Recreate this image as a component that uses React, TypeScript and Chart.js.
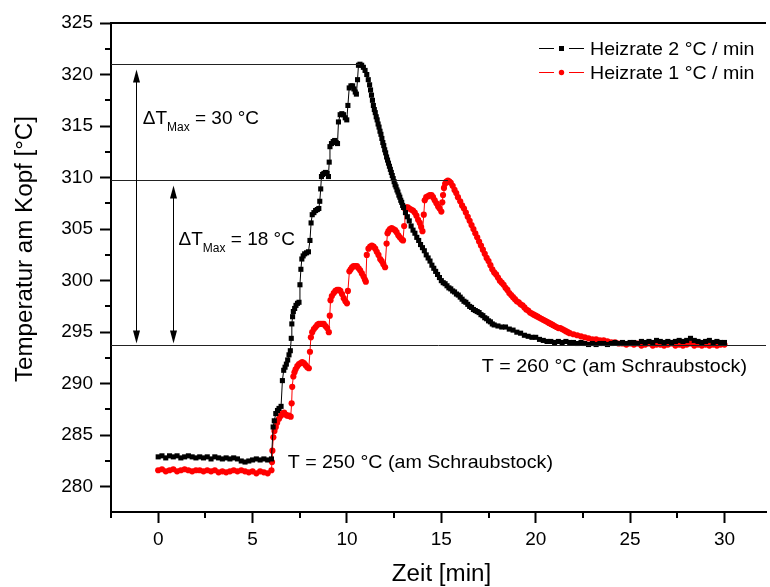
import { useEffect, useRef } from 'react';
import { Chart, registerables } from 'chart.js';

Chart.register(...registerables);

const FONT = '"Liberation Sans", Arial, Helvetica, sans-serif';

// Axis ranges and ticks
const X_MIN = -2.5;
const X_MAX = 32.2;
const Y_MIN = 277.55;
const Y_MAX = 325;
const xMinorTicks = [-2.5, 2.5, 7.5, 12.5, 17.5, 22.5, 27.5];
const yMinorTicks = [282.5, 287.5, 292.5, 297.5, 302.5, 307.5, 312.5, 317.5, 322.5];

const xTitle = 'Zeit [min]';
const yTitle = 'Temperatur am Kopf [°C]';
const seriesLabels = ['Heizrate 2 °C / min', 'Heizrate 1 °C / min'];

// Heizrate 2 °C / min  [time (min), temperature (°C)]
const heizrate2: [number, number][] = [
  [0, 282.9], [0.2, 283.0], [0.4, 282.8], [0.6, 283.0], [0.8, 282.9], [1.0, 283.0], [1.2, 282.8], [1.4, 282.9],
  [1.6, 283.0], [1.8, 282.9], [2.0, 282.8], [2.2, 282.9], [2.4, 282.8], [2.6, 282.9], [2.8, 282.7], [3.0, 282.9],
  [3.2, 282.8], [3.4, 282.7], [3.6, 282.8], [3.8, 282.7], [4.0, 282.8], [4.2, 282.7], [4.4, 282.5], [4.6, 282.4],
  [4.8, 282.5], [5.0, 282.6], [5.2, 282.7], [5.4, 282.6], [5.6, 282.7], [5.8, 282.6], [6.0, 282.7],
  [6.09, 285.8], [6.15, 286.4], [6.23, 287.1], [6.32, 287.4], [6.4, 287.6], [6.51, 287.8], [6.58, 290.3],
  [6.65, 291.3], [6.72, 291.6], [6.79, 291.9], [6.86, 292.3], [6.93, 292.8], [7.0, 293.2], [7.05, 294.4],
  [7.08, 295.8], [7.12, 296.5], [7.16, 297.0], [7.23, 297.3], [7.3, 297.6], [7.38, 297.8], [7.46, 297.9],
  [7.51, 299.6], [7.56, 301.1], [7.61, 302.1], [7.68, 302.4], [7.76, 302.6], [7.86, 302.7], [7.96, 302.8],
  [8.04, 303.9], [8.1, 305.6], [8.16, 306.4], [8.25, 306.6], [8.34, 306.8], [8.43, 306.9], [8.51, 307.0],
  [8.56, 307.7], [8.61, 308.9], [8.65, 310.1], [8.71, 310.3], [8.78, 310.4], [8.86, 310.5], [8.95, 310.4],
  [9.02, 310.1], [9.06, 311.5], [9.1, 313.0], [9.18, 313.3], [9.27, 313.5], [9.35, 313.6], [9.43, 313.4],
  [9.5, 313.3], [9.55, 315.4], [9.64, 316.1], [9.73, 316.2], [9.82, 316.1], [9.91, 315.8], [9.99, 315.6],
  [10.05, 317.0], [10.12, 318.7], [10.21, 318.9], [10.3, 318.9], [10.37, 318.6], [10.44, 318.3], [10.5, 318.1],
  [10.56, 319.5], [10.61, 320.9], [10.69, 321.0], [10.78, 320.9], [10.87, 320.7], [10.96, 320.4], [11.05, 320.0],
  [11.13, 319.5], [11.2, 319.0], [11.25, 318.5], [11.3, 318.0], [11.35, 317.5], [11.4, 317.0], [11.45, 316.6],
  [11.5, 316.3], [11.55, 315.9], [11.6, 315.6], [11.65, 315.2], [11.7, 314.9], [11.75, 314.5], [11.8, 314.2],
  [11.85, 313.8], [11.9, 313.4], [11.95, 313.1], [12.0, 312.7], [12.05, 312.4], [12.1, 312.0], [12.15, 311.7],
  [12.2, 311.4], [12.25, 311.1], [12.3, 310.8], [12.35, 310.5], [12.4, 310.2], [12.45, 309.9], [12.5, 309.6],
  [12.55, 309.3], [12.6, 309.1], [12.65, 308.8], [12.7, 308.6], [12.75, 308.3], [12.8, 308.1], [12.85, 307.8],
  [12.9, 307.6], [12.95, 307.3], [13.0, 307.1], [13.1, 306.6], [13.2, 306.2], [13.3, 305.8], [13.4, 305.3],
  [13.5, 304.9], [13.6, 304.6], [13.7, 304.2], [13.8, 303.9], [13.9, 303.5], [14.0, 303.2], [14.1, 302.9],
  [14.2, 302.5], [14.3, 302.2], [14.4, 301.9], [14.5, 301.5], [14.6, 301.2], [14.7, 300.9], [14.8, 300.6],
  [14.9, 300.3], [15.0, 300.0], [15.1, 299.8], [15.2, 299.7], [15.3, 299.5], [15.4, 299.3], [15.5, 299.2],
  [15.6, 299.0], [15.7, 298.9], [15.8, 298.7], [15.9, 298.6], [16.0, 298.4], [16.1, 298.2], [16.2, 298.0],
  [16.3, 297.9], [16.4, 297.7], [16.5, 297.5], [16.6, 297.4], [16.7, 297.2], [16.8, 297.1], [16.9, 297.0],
  [17.0, 296.9], [17.1, 296.7], [17.2, 296.6], [17.3, 296.4], [17.4, 296.3], [17.5, 296.1], [17.6, 296.0],
  [17.7, 295.8], [17.8, 295.7], [18.0, 295.6], [18.2, 295.5], [18.4, 295.5], [18.6, 295.3], [18.8, 295.2],
  [19.0, 295.0], [19.2, 294.9], [19.4, 294.7], [19.6, 294.6], [19.8, 294.5], [20.0, 294.5], [20.2, 294.3],
  [20.4, 294.2], [20.6, 294.1], [20.8, 294.1], [21.0, 294.0], [21.2, 294.1], [21.4, 294.0], [21.6, 294.1],
  [21.8, 294.0], [22.0, 294.0], [22.2, 293.9], [22.4, 294.0], [22.6, 293.9], [22.8, 293.8], [23.0, 293.9],
  [23.2, 293.8], [23.4, 293.9], [23.6, 293.9], [23.8, 293.8], [24.0, 293.9], [24.2, 294.0], [24.4, 293.9],
  [24.6, 294.0], [24.8, 293.9], [25.0, 294.0], [25.2, 294.0], [25.4, 293.9], [25.6, 294.1], [25.8, 294.0],
  [26.0, 294.1], [26.2, 294.0], [26.4, 294.2], [26.6, 294.1], [26.8, 294.0], [27.0, 294.1], [27.2, 294.0],
  [27.4, 294.1], [27.6, 294.2], [27.8, 294.1], [28.0, 294.2], [28.2, 294.4], [28.4, 294.2], [28.6, 294.1],
  [28.8, 294.0], [29.0, 294.1], [29.2, 294.2], [29.4, 294.0], [29.6, 294.1], [29.8, 294.0], [30.0, 294.0],
];

// Heizrate 1 °C / min  [time (min), temperature (°C)]
const heizrate1: [number, number][] = [
  [0, 281.6], [0.2, 281.7], [0.4, 281.5], [0.6, 281.6], [0.8, 281.7], [1.0, 281.5], [1.2, 281.6], [1.4, 281.7],
  [1.6, 281.6], [1.8, 281.5], [2.0, 281.6], [2.2, 281.6], [2.4, 281.5], [2.6, 281.6], [2.8, 281.5], [3.0, 281.6],
  [3.2, 281.4], [3.4, 281.5], [3.6, 281.4], [3.8, 281.5], [4.0, 281.6], [4.2, 281.5], [4.4, 281.6], [4.6, 281.5],
  [4.8, 281.4], [5.0, 281.5], [5.2, 281.3], [5.4, 281.5], [5.6, 281.4], [5.8, 281.3], [6.0, 281.6],
  [6.03, 282.4], [6.05, 283.5], [6.1, 284.8], [6.16, 285.4], [6.23, 285.8], [6.3, 286.2], [6.4, 286.6],
  [6.5, 286.9], [6.58, 287.1], [6.67, 287.2], [6.75, 287.0], [6.84, 286.9], [6.93, 286.9], [7.02, 286.8],
  [7.07, 288.1], [7.1, 289.7], [7.16, 290.7], [7.22, 291.1], [7.28, 291.4], [7.37, 291.7], [7.46, 291.9],
  [7.55, 292.0], [7.63, 292.1], [7.72, 292.0], [7.81, 291.8], [7.9, 291.6], [7.98, 291.5], [8.04, 293.1],
  [8.09, 294.5], [8.16, 295.0], [8.25, 295.3], [8.34, 295.5], [8.43, 295.7], [8.51, 295.8], [8.6, 295.8],
  [8.68, 295.8], [8.77, 295.8], [8.86, 295.6], [8.95, 295.4], [9.04, 295.0], [9.09, 296.6], [9.13, 298.1],
  [9.2, 298.5], [9.3, 298.8], [9.39, 299.0], [9.48, 299.1], [9.57, 299.1], [9.65, 299.0], [9.74, 298.7],
  [9.83, 298.3], [9.92, 298.0], [10.0, 297.8], [10.05, 299.0], [10.13, 300.9], [10.2, 301.1], [10.27, 301.3],
  [10.35, 301.4], [10.44, 301.4], [10.53, 301.4], [10.62, 301.2], [10.7, 301.0], [10.79, 300.7], [10.88, 300.4],
  [10.95, 300.1], [11.0, 299.9], [11.05, 302.5], [11.14, 303.1], [11.23, 303.3], [11.32, 303.4], [11.41, 303.3],
  [11.5, 303.1], [11.58, 302.8], [11.67, 302.5], [11.76, 302.1], [11.84, 301.9], [11.93, 301.6], [12.02, 301.3],
  [12.1, 303.6], [12.15, 304.6], [12.2, 304.8], [12.28, 305.0], [12.37, 305.1], [12.46, 305.0], [12.55, 304.9],
  [12.63, 304.7], [12.72, 304.4], [12.8, 304.2], [12.9, 304.0], [12.97, 303.9], [13.03, 305.3], [13.07, 307.0],
  [13.14, 307.1], [13.22, 307.1], [13.3, 307.0], [13.4, 306.9], [13.5, 306.8], [13.59, 306.6], [13.68, 306.3],
  [13.77, 305.9], [13.86, 305.6], [13.93, 305.2], [14.0, 304.8], [14.07, 306.4], [14.12, 307.8], [14.2, 308.1],
  [14.3, 308.2], [14.39, 308.3], [14.48, 308.3], [14.56, 308.1], [14.65, 307.8], [14.74, 307.5], [14.83, 307.2],
  [14.91, 307.0], [15.0, 306.7], [15.05, 307.6], [15.09, 308.3], [15.14, 309.0], [15.2, 309.4], [15.27, 309.6],
  [15.35, 309.7], [15.43, 309.6], [15.5, 309.5], [15.6, 309.2], [15.7, 308.8], [15.79, 308.5], [15.88, 308.1],
  [16.0, 307.7], [16.1, 307.3], [16.2, 307.0], [16.3, 306.6], [16.4, 306.2], [16.5, 305.8], [16.6, 305.4],
  [16.7, 305.0], [16.8, 304.6], [16.9, 304.2], [17.0, 303.8], [17.1, 303.4], [17.2, 303.0], [17.3, 302.6],
  [17.4, 302.2], [17.5, 301.9], [17.6, 301.5], [17.7, 301.1], [17.8, 300.8], [17.9, 300.6], [18.0, 300.3],
  [18.1, 300.0], [18.2, 299.8], [18.3, 299.6], [18.4, 299.3], [18.5, 299.1], [18.6, 298.8], [18.7, 298.6],
  [18.8, 298.4], [18.9, 298.2], [19.0, 298.0], [19.1, 297.9], [19.2, 297.7], [19.3, 297.6], [19.4, 297.4],
  [19.5, 297.2], [19.6, 297.1], [19.7, 296.9], [19.8, 296.8], [19.9, 296.7], [20.0, 296.6], [20.1, 296.5],
  [20.2, 296.4], [20.3, 296.3], [20.4, 296.2], [20.5, 296.1], [20.6, 296.0], [20.7, 295.9], [20.8, 295.8],
  [20.9, 295.7], [21.0, 295.6], [21.1, 295.5], [21.2, 295.4], [21.3, 295.4], [21.4, 295.3], [21.5, 295.2],
  [21.6, 295.1], [21.7, 295.0], [21.8, 294.9], [22.0, 294.8], [22.2, 294.7], [22.4, 294.6], [22.6, 294.5],
  [22.8, 294.4], [23.0, 294.3], [23.2, 294.3], [23.4, 294.2], [23.6, 294.2], [23.8, 294.1], [24.0, 294.0],
  [24.2, 294.0], [24.4, 293.9], [24.6, 293.9], [24.8, 293.8], [25.0, 293.9], [25.2, 293.8], [25.4, 293.9],
  [25.6, 293.7], [25.8, 293.8], [26.0, 293.9], [26.2, 293.7], [26.4, 293.8], [26.6, 293.8], [26.8, 293.7],
  [27.0, 293.8], [27.2, 293.9], [27.4, 293.7], [27.6, 293.8], [27.8, 293.7], [28.0, 293.8], [28.2, 293.9],
  [28.4, 293.7], [28.6, 293.8], [28.8, 293.7], [29.0, 293.8], [29.2, 293.7], [29.4, 293.8], [29.6, 293.7],
  [29.8, 293.8], [30.0, 293.8],
];

// Reference lines / annotations (data coordinates)
const peakHeizrate2 = { x: 10.69, y: 321.0 };
const peakHeizrate1 = { x: 15.35, y: 309.8 };
const baseTemp = 293.8;
const arrowXs = [-1.15, 0.76];
const deltaTexts = ['= 30 °C', '= 18 °C'];
const deltaPos = [{ x: -0.82, y: 315.2 }, { x: 1.08, y: 303.45 }];
const vicePos = [{ x: 17.14, y: 291.16, text: 'T = 260 °C (am Schraubstock)' }, { x: 6.86, y: 281.84, text: 'T = 250 °C (am Schraubstock)' }];

function drawText(ctx: CanvasRenderingContext2D, s: string, x: number, y: number, size: number, align: CanvasTextAlign = 'left', sx = 1) {
  ctx.save();
  ctx.font = `${size}px ${FONT}`;
  ctx.textAlign = align;
  ctx.textBaseline = 'alphabetic';
  ctx.fillStyle = '#000';
  ctx.translate(x, y);
  ctx.scale(sx, 1);
  ctx.fillText(s, 0, 0);
  ctx.restore();
}

function arrowHead(ctx: CanvasRenderingContext2D, x: number, tipY: number, dir: number) {
  ctx.beginPath();
  ctx.moveTo(x, tipY);
  ctx.lineTo(x - 3.5, tipY + dir * 13);
  ctx.lineTo(x + 3.5, tipY + dir * 13);
  ctx.closePath();
  ctx.fill();
}

const decorPlugin = {
  id: 'decor',
  afterDraw(chart: any) {
    const ctx: CanvasRenderingContext2D = chart.ctx;
    const xs = chart.scales.x;
    const ys = chart.scales.y;
    const a = chart.chartArea;
    ctx.save();
    // top frame line
    ctx.strokeStyle = '#000';
    ctx.lineWidth = 2;
    ctx.beginPath();
    ctx.moveTo(a.left - 1, a.top);
    ctx.lineTo(a.right, a.top);
    ctx.stroke();
    // minor ticks
    ctx.beginPath();
    xMinorTicks.forEach((v) => {
      const px = Math.round(xs.getPixelForValue(v));
      ctx.moveTo(px, a.bottom);
      ctx.lineTo(px, a.bottom + 6);
    });
    yMinorTicks.forEach((v) => {
      const py = Math.round(ys.getPixelForValue(v));
      ctx.moveTo(a.left, py);
      ctx.lineTo(a.left - 6, py);
    });
    ctx.stroke();

    // reference lines
    ctx.strokeStyle = '#222';
    ctx.lineWidth = 1;
    const yPk2 = Math.round(ys.getPixelForValue(peakHeizrate2.y)) + 0.5;
    const yPk1 = Math.round(ys.getPixelForValue(peakHeizrate1.y)) + 0.5;
    const yBase = Math.round(ys.getPixelForValue(baseTemp)) + 0.5;
    ctx.beginPath();
    ctx.moveTo(a.left, yPk2);
    ctx.lineTo(xs.getPixelForValue(peakHeizrate2.x), yPk2);
    ctx.moveTo(a.left, yPk1);
    ctx.lineTo(xs.getPixelForValue(peakHeizrate1.x), yPk1);
    ctx.moveTo(a.left, yBase);
    ctx.lineTo(a.right, yBase);
    ctx.stroke();

    // double arrows
    ctx.fillStyle = '#000';
    ctx.strokeStyle = '#000';
    const tops = [yPk2, yPk1];
    arrowXs.forEach((xv, i) => {
      const px = Math.round(xs.getPixelForValue(xv)) + 0.5;
      const t = tops[i] + 5;
      const b = yBase - 2;
      ctx.beginPath();
      ctx.moveTo(px, t + 6);
      ctx.lineTo(px, b - 6);
      ctx.stroke();
      arrowHead(ctx, px, t, 1);
      arrowHead(ctx, px, b, -1);
    });

    // delta texts
    deltaPos.forEach((p, i) => {
      const px = xs.getPixelForValue(p.x);
      const py = ys.getPixelForValue(p.y);
      ctx.font = `19px ${FONT}`;
      drawText(ctx, 'ΔT', px, py, 19);
      const w1 = ctx.measureText('ΔT').width;
      ctx.font = `12px ${FONT}`;
      drawText(ctx, 'Max', px + w1, py + 7, 12);
      const w2 = ctx.measureText('Max').width;
      drawText(ctx, ' ' + deltaTexts[i], px + w1 + w2, py, 19);
    });

    vicePos.forEach((p) => {
      drawText(ctx, p.text, xs.getPixelForValue(p.x), ys.getPixelForValue(p.y), 19, 'left', 1.035);
    });

    // legend
    const colors = ['#000', '#ff0000'];
    const rowsY = [48, 72];
    const lx0 = a.right - 227;
    rowsY.forEach((ry, i) => {
      ctx.strokeStyle = colors[i];
      ctx.fillStyle = colors[i];
      ctx.lineWidth = 1;
      ctx.beginPath();
      ctx.moveTo(lx0, ry + 0.5);
      ctx.lineTo(lx0 + 15, ry + 0.5);
      ctx.moveTo(lx0 + 30, ry + 0.5);
      ctx.lineTo(lx0 + 45, ry + 0.5);
      ctx.stroke();
      if (i === 0) {
        ctx.fillRect(lx0 + 20, ry - 2, 5, 5);
      } else {
        ctx.beginPath();
        ctx.arc(lx0 + 22.5, ry + 0.5, 2.7, 0, Math.PI * 2);
        ctx.fill();
      }
      drawText(ctx, seriesLabels[i], lx0 + 51, ry + 7, 19, 'left', 1.03);
    });

    // axis titles
    drawText(ctx, xTitle, (a.left + a.right) / 2 + 3, 581, 23, 'center', 1.05);
    ctx.save();
    ctx.translate(32, 249);
    ctx.rotate(-Math.PI / 2);
    drawText(ctx, yTitle, 0, 0, 23, 'center', 1.05);
    ctx.restore();

    ctx.restore();
  },
};

export default function App() {
  const ref = useRef<HTMLCanvasElement | null>(null);
  useEffect(() => {
    if (!ref.current) return;
    const chart = new Chart(ref.current, {
      type: 'line',
      data: {
        datasets: [
          {
            label: seriesLabels[0],
            data: heizrate2.map(([x, y]) => ({ x, y })),
            borderColor: '#000',
            backgroundColor: '#000',
            borderWidth: 1,
            pointStyle: 'rect',
            pointRadius: 3.6,
            pointBorderWidth: 0,
            pointBackgroundColor: '#000',
            tension: 0,
          },
          {
            label: seriesLabels[1],
            data: heizrate1.map(([x, y]) => ({ x, y })),
            borderColor: '#ff0000',
            backgroundColor: '#ff0000',
            borderWidth: 1,
            pointStyle: 'circle',
            pointRadius: 3.1,
            pointBorderWidth: 0,
            pointBackgroundColor: '#ff0000',
            tension: 0,
          },
        ],
      },
      options: {
        responsive: false,
        animation: false,
        events: [],
        layout: { padding: { top: 23, left: 0, right: 0, bottom: 0 } },
        plugins: { legend: { display: false }, tooltip: { enabled: false } },
        scales: {
          x: {
            type: 'linear',
            min: X_MIN,
            max: X_MAX,
            afterFit: (s: any) => { s.height = 75; },
            border: { display: true, color: '#000', width: 2 },
            grid: { display: true, drawOnChartArea: false, drawTicks: true, tickLength: 11, tickWidth: 2, tickColor: '#000' },
            ticks: {
              stepSize: 5,
              includeBounds: false,
              autoSkip: false,
              maxRotation: 0,
              padding: 5,
              color: '#000',
              font: { family: FONT, size: 19 },
            },
          },
          y: {
            type: 'linear',
            min: Y_MIN,
            max: Y_MAX,
            afterFit: (s: any) => { s.width = 111; },
            border: { display: true, color: '#000', width: 2 },
            grid: { display: true, drawOnChartArea: false, drawTicks: true, tickLength: 11, tickWidth: 2, tickColor: '#000' },
            ticks: {
              stepSize: 5,
              includeBounds: false,
              autoSkip: false,
              padding: 7,
              color: '#000',
              font: { family: FONT, size: 19 },
            },
          },
        },
      },
      plugins: [decorPlugin],
    } as any);
    return () => chart.destroy();
  }, []);
  return (
    <div style={{ position: 'absolute', left: 0, top: 0, width: 770, height: 587, background: '#fff' }}>
      <canvas ref={ref} width={770} height={587} style={{ display: 'block', width: 770, height: 587 }} />
    </div>
  );
}
